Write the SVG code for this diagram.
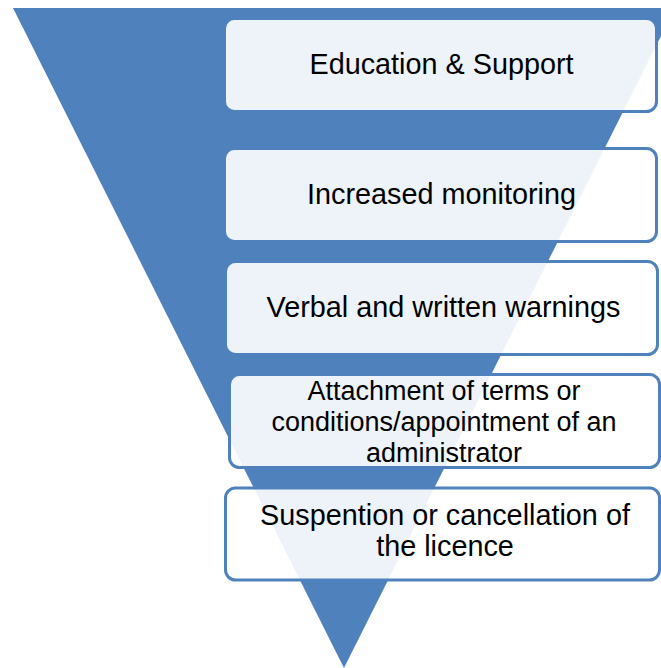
<svg xmlns="http://www.w3.org/2000/svg" width="661" height="668" viewBox="0 0 661 668">
  <style>
    .box { fill: #ffffff; fill-opacity: 0.9; stroke: #4F81BD; stroke-width: 3; }
    .lbl { font-family: "Liberation Sans", Arial, sans-serif; font-size: 28.8px; fill: #000000; text-anchor: middle; }
    .sm { font-size: 27px; }
  </style>
  <rect width="661" height="668" fill="#ffffff"/>
  <g id="funnel">
    <polygon points="13,8 675,8 344,668" fill="#4F81BD"/>
  </g>
  <g id="connectors"></g>
  <g id="node1">
    <rect class="box" x="224.5" y="18.5" width="432" height="93" rx="10"/>
    <text class="lbl" x="441.5" y="74">Education &amp; Support</text>
  </g>
  <g id="node2">
    <rect class="box" x="224.5" y="148.5" width="432" height="93" rx="10"/>
    <text class="lbl" x="441.5" y="204">Increased monitoring</text>
  </g>
  <g id="node3">
    <rect class="box" x="225.5" y="261.5" width="432" height="93" rx="10"/>
    <text class="lbl" x="443.5" y="317">Verbal and written warnings</text>
  </g>
  <g id="node4">
    <rect class="box" x="229.5" y="374.5" width="430" height="93" rx="10"/>
    <text class="lbl sm" x="444" y="400">Attachment of terms or</text>
    <text class="lbl sm" x="444" y="431">conditions/appointment of an</text>
    <text class="lbl sm" x="444" y="462">administrator</text>
  </g>
  <g id="node5">
    <rect class="box" x="225.5" y="488" width="434" height="92" rx="10"/>
    <text class="lbl" x="445" y="525">Suspention or cancellation of</text>
    <text class="lbl" x="445" y="556">the licence</text>
  </g>
</svg>
